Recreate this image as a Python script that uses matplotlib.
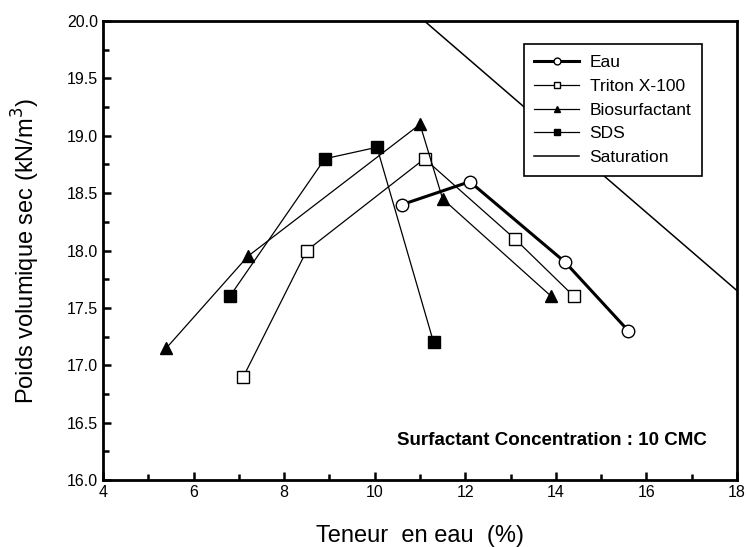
import matplotlib
matplotlib.use('Agg')
import matplotlib.pyplot as plt
from matplotlib.ticker import MultipleLocator

plt.rcParams['font.family'] = ['Liberation Sans', 'DejaVu Sans']

# Données
eau_w = [10.6, 12.1, 14.2, 15.6]
eau_g = [18.4, 18.6, 17.9, 17.3]

triton_w = [7.1, 8.5, 11.1, 13.1, 14.4]
triton_g = [16.9, 18.0, 18.8, 18.1, 17.6]

bio_w = [5.4, 7.2, 11.0, 11.5, 13.9]
bio_g = [17.15, 17.95, 19.1, 18.45, 17.6]

sds_w = [6.8, 8.9, 10.05, 11.3]
sds_g = [17.6, 18.8, 18.9, 17.2]

sat_w = [11.1, 18.0]
sat_g = [20.0, 17.65]

fig = plt.figure(figsize=(7.46, 5.47), dpi=100)
ax = fig.add_axes([0.138, 0.1225, 0.850, 0.839])

ax.plot(eau_w, eau_g, '-o', color='k', lw=2.2, ms=9, mfc='white', mec='k', mew=1.0, label='Eau')
ax.plot(triton_w, triton_g, '-s', color='k', lw=0.9, ms=8, mfc='white', mec='k', mew=1.0, label='Triton X-100')
ax.plot(bio_w, bio_g, '-^', color='k', lw=0.9, ms=9, mfc='k', mec='k', label='Biosurfactant')
ax.plot(sds_w, sds_g, '-s', color='k', lw=0.9, ms=8, mfc='k', mec='k', label='SDS')
ax.plot(sat_w, sat_g, '-', color='k', lw=1.1, label='Saturation')

ax.set_xlim(4, 18)
ax.set_ylim(16.0, 20.0)
ax.xaxis.set_major_locator(MultipleLocator(2))
ax.xaxis.set_minor_locator(MultipleLocator(1))
ax.yaxis.set_major_locator(MultipleLocator(0.5))
ax.yaxis.set_minor_locator(MultipleLocator(0.25))
ax.yaxis.set_major_formatter(matplotlib.ticker.FormatStrFormatter('%.1f'))
ax.tick_params(which='both', direction='in', width=1.8, labelsize=11.5)
ax.tick_params(which='major', length=6)
ax.tick_params(which='minor', length=4)
for s in ax.spines.values():
    s.set_linewidth(2)

ax.set_xlabel('Teneur  en eau  (%)', fontsize=17, labelpad=18)
ax.set_ylabel('Poids volumique sec (kN/m$^3$)', fontsize=17, labelpad=18)

ax.text(0.953, 0.085, 'Surfactant Concentration : 10 CMC', transform=ax.transAxes,
        ha='right', va='center', fontsize=13.5, fontweight='bold')

leg = ax.legend(loc='upper right', bbox_to_anchor=(0.958, 0.968), fontsize=12.5,
                fancybox=False, edgecolor='k', framealpha=1, handlelength=2.6,
                markerscale=0.55, borderpad=0.6, labelspacing=0.5, handletextpad=0.6)
leg.get_frame().set_linewidth(1.2)

fig.savefig('out.png', dpi=100)
